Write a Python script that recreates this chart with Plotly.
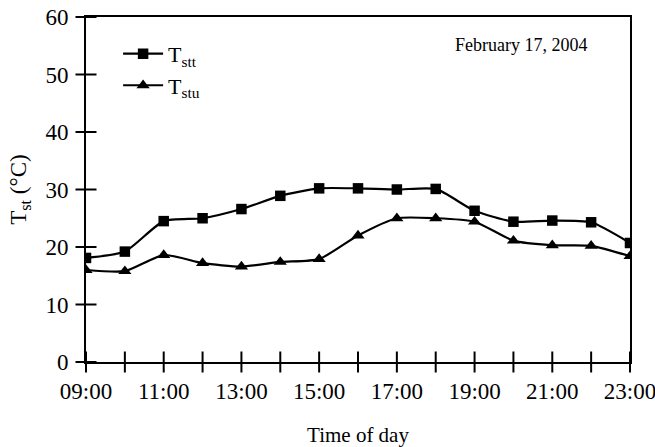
import plotly.graph_objects as go

times = ["09:00", "10:00", "11:00", "12:00", "13:00", "14:00", "15:00", "16:00",
         "17:00", "18:00", "19:00", "20:00", "21:00", "22:00", "23:00"]
tstt = [18.1, 19.2, 24.5, 25.0, 26.6, 28.9, 30.2, 30.2, 30.0, 30.1, 26.3, 24.4, 24.6, 24.3, 20.7]
tstu = [16.0, 15.8, 18.6, 17.2, 16.6, 17.4, 17.9, 22.0, 25.0, 25.0, 24.4, 21.1, 20.3, 20.2, 18.4]
y_ticks = [0, 10, 20, 30, 40, 50, 60]
tick_text = [t if i % 2 == 0 else "" for i, t in enumerate(times)]

FONT = "Liberation Serif, Times New Roman, serif"

fig = go.Figure()
# tick marks that cross the axis lines (drawn as line markers at the tick positions)
fig.add_trace(go.Scatter(
    x=times, y=[y_ticks[0]] * len(times), mode="markers", cliponaxis=False,
    marker=dict(symbol="line-ns", size=15, line=dict(color="black", width=2)),
    showlegend=False, hoverinfo="skip",
))
fig.add_trace(go.Scatter(
    x=[times[0]] * len(y_ticks), y=y_ticks, mode="markers", cliponaxis=False,
    marker=dict(symbol="line-ew", size=15, line=dict(color="black", width=2)),
    showlegend=False, hoverinfo="skip",
))
fig.add_trace(go.Scatter(
    x=times, y=tstt, name="T<sub>stt</sub>", mode="lines+markers",
    line=dict(color="black", width=2.2, shape="spline", smoothing=0.6),
    marker=dict(symbol="square", size=10.5, color="black"),
))
fig.add_trace(go.Scatter(
    x=times, y=tstu, name="T<sub>stu</sub>", mode="lines+markers",
    line=dict(color="black", width=2.2, shape="spline", smoothing=0.6),
    marker=dict(symbol="triangle-up", size=11.5, color="black"),
))

fig.update_layout(
    width=655, height=447,
    margin=dict(l=86, r=25, t=17, b=85, autoexpand=False),
    paper_bgcolor="white", plot_bgcolor="white",
    font=dict(family=FONT, size=22, color="black"),
    showlegend=True,
    legend=dict(x=0.059, y=0.954, xanchor="left", yanchor="top",
                font=dict(family=FONT, size=22, color="black"),
                bgcolor="rgba(0,0,0,0)", tracegroupgap=0, itemwidth=40),
    xaxis=dict(
        type="category", range=[0, len(times) - 1], automargin=False,
        tickmode="array", tickvals=times, ticktext=tick_text,
        ticks="outside", ticklen=7, tickwidth=2, tickcolor="rgba(0,0,0,0)",
        showline=True, linecolor="black", linewidth=2, mirror=True,
        showgrid=False, zeroline=False,
        tickfont=dict(family=FONT, size=23, color="black"),
        title=dict(text="Time of day", font=dict(family=FONT, size=21), standoff=25),
    ),
    yaxis=dict(
        range=[0, 60], tickmode="array", tickvals=y_ticks, automargin=False,
        ticks="outside", ticklen=11, tickwidth=2, tickcolor="rgba(0,0,0,0)",
        showline=True, linecolor="black", linewidth=2, mirror=True,
        showgrid=False, zeroline=False,
        tickfont=dict(family=FONT, size=23, color="black"),
        title=dict(text="T<sub>st</sub> (°C)", font=dict(family=FONT, size=23), standoff=12),
    ),
    annotations=[dict(
        text="February 17, 2004", xref="paper", yref="paper",
        x=0.80, y=0.919, xanchor="center", yanchor="middle", showarrow=False,
        font=dict(family=FONT, size=18, color="black"),
    )],
)

fig.write_html("out.html")
